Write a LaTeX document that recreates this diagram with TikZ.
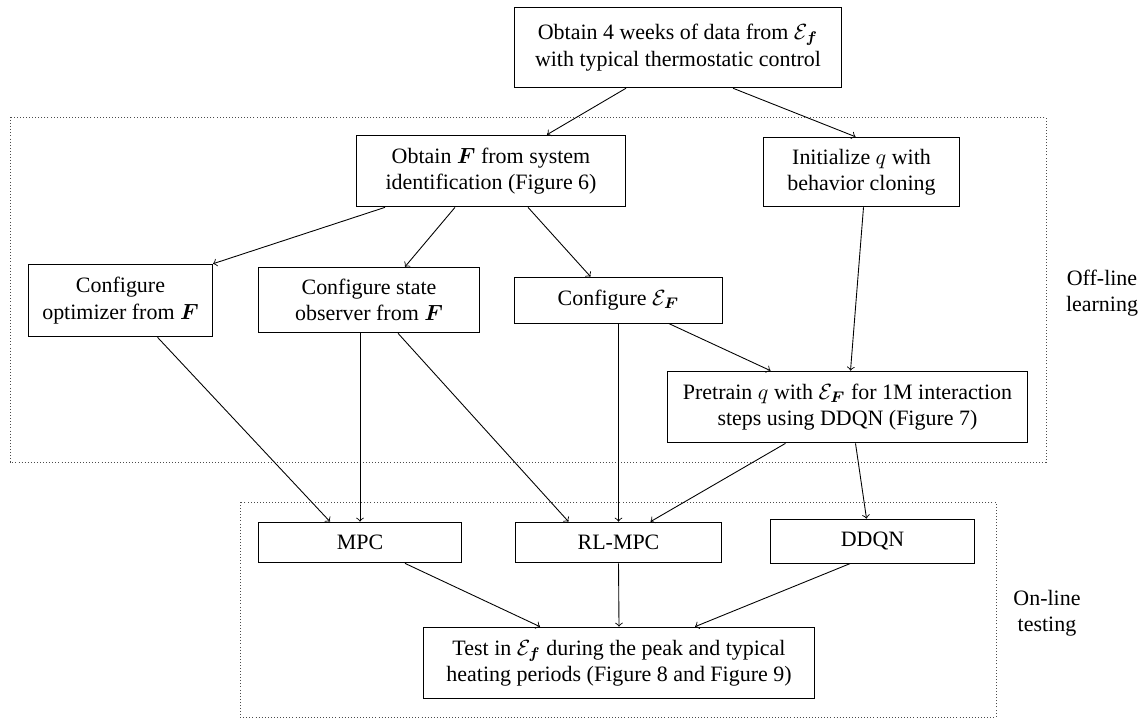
\documentclass[tikz,border=0pt]{standalone}
\usepackage{amsmath}
\usepackage{amssymb}
\usepackage{fontspec}
\setmainfont{Liberation Serif}
\usetikzlibrary{calc}

\begin{document}
\begin{tikzpicture}[x=0.016cm, y=-0.016cm, font=\fontsize{10}{12}\selectfont, blk/.style={draw, align=center, inner sep=2pt}, zone/.style={draw=black!70, densely dotted}, flow/.style={->}]
  \useasboundingbox (0,0) rectangle (1140,721);
  \node[blk, minimum width=148.7pt, minimum height=36.7pt](start) at (678,47.5){Obtain 4 weeks of data from $\mathcal{E}_{\boldsymbol{f}}$\\with typical thermostatic control};
  \node[blk, minimum width=122.4pt, minimum height=32.7pt](obtF) at (491,171){Obtain $\boldsymbol{F}$ from system\\identification (Figure 6)};
  \node[blk, minimum width=89.3pt, minimum height=31.7pt](init) at (861.5,172){Initialize $q$ with\\behavior cloning};
  \node[blk, minimum width=83.9pt, minimum height=33.1pt](optim) at (120.5,300.5){Configure\\optimizer from $\boldsymbol{F}$};
  \node[blk, minimum width=100.7pt, minimum height=29.9pt](observ) at (369,300){Configure state\\observer from $\boldsymbol{F}$};
  \node[blk, minimum width=94.8pt, minimum height=20.9pt](confE) at (618.5,300){Configure $\mathcal{E}_{\boldsymbol{F}}$};
  \node[blk, minimum width=163.7pt, minimum height=32.7pt](pretrain) at (847.5,407){Pretrain $q$ with $\mathcal{E}_{\boldsymbol{F}}$ for 1M interaction\\steps using DDQN (Figure 7)};
  \node[blk, minimum width=92.5pt, minimum height=18.6pt](mpc) at (360,542.5){MPC};
  \node[blk, minimum width=93.9pt, minimum height=18.6pt](rlmpc) at (618.5,542.5){RL-MPC};
  \node[blk, minimum width=93pt, minimum height=20pt](ddqn) at (872.5,541){DDQN};
  \node[blk, minimum width=177.8pt, minimum height=32.7pt](test) at (619,663){Test in $\mathcal{E}_{\boldsymbol{f}}$ during the peak and typical\\heating periods (Figure 8 and Figure 9)};
  \draw[zone] (10,117) rectangle (1046,462);
  \draw[zone] (240,502) rectangle (996,717);
  \node[align=center](offl) at (1102,293){Off-line\\learning};
  \node[align=center](onl) at (1047,613){On-line\\testing};
  \draw[flow] ($(start.south)+(-52,0)$) -- ($(obtF.north)+(56,0)$);
  \draw[flow] ($(start.south)+(55,0)$) -- ($(init.north)+(-6,0)$);
  \draw[flow] ($(obtF.south)+(-106,0)$) -- (optim.north east);
  \draw[flow] ($(obtF.south)+(-36,0)$) -- ($(observ.north)+(36,0)$);
  \draw[flow] ($(obtF.south)+(37,0)$) -- ($(confE.north)+(-28,0)$);
  \draw[flow] ($(init.south)+(2,0)$) -- ($(pretrain.north)+(3,0)$);
  \draw[flow] ($(confE.south)+(50,0)$) -- ($(pretrain.north)+(-77,0)$);
  \draw[flow] ($(optim.south)+(37,0)$) -- ($(mpc.north)+(-30,0)$);
  \draw[flow] ($(observ.south)+(-9,0)$) -- (mpc.north);
  \draw[flow] ($(observ.south)+(29,0)$) -- ($(rlmpc.north)+(-50,0)$);
  \draw[flow] (confE.south) -- (rlmpc.north);
  \draw[flow] ($(pretrain.south)+(-62,0)$) -- ($(rlmpc.north)+(32,0)$);
  \draw[flow] ($(pretrain.south)+(8,0)$) -- ($(ddqn.north)+(-6,0)$);
  \draw[flow] ($(mpc.south)+(45,0)$) -- ($(test.north)+(-79,0)$);
  \draw[flow] (rlmpc.south) -- (test.north);
  \draw[flow] ($(ddqn.south)+(-22,0)$) -- ($(test.north)+(76,0)$);
\end{tikzpicture}
\end{document}
